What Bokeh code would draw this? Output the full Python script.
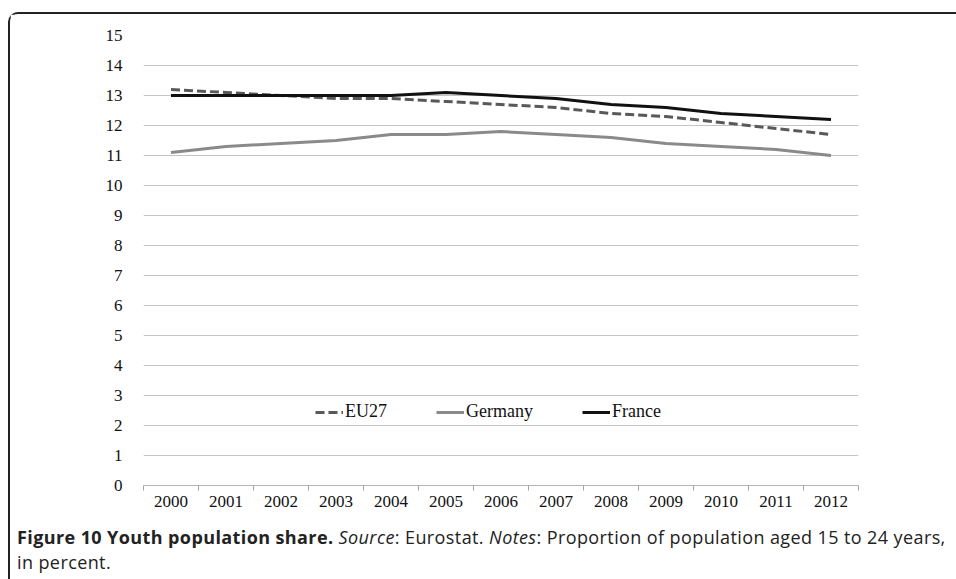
from bokeh.plotting import figure
from bokeh.models import FixedTicker, Legend, LegendItem, Div
from bokeh.layouts import column
from bokeh.embed import file_html
from bokeh.resources import INLINE

years = [2000, 2001, 2002, 2003, 2004, 2005, 2006, 2007, 2008, 2009, 2010, 2011, 2012]
eu27 = [13.2, 13.1, 13.0, 12.9, 12.9, 12.8, 12.7, 12.6, 12.4, 12.3, 12.1, 11.9, 11.7]
germany = [11.1, 11.3, 11.4, 11.5, 11.7, 11.7, 11.8, 11.7, 11.6, 11.4, 11.3, 11.2, 11.0]
france = [13.0, 13.0, 13.0, 13.0, 13.0, 13.1, 13.0, 12.9, 12.7, 12.6, 12.4, 12.3, 12.2]
y_ticks = list(range(0, 16))

xs = list(range(len(years)))

p = figure(width=938, height=506, x_range=(-0.5, len(years) - 0.5), y_range=(0, 15),
           output_backend="svg", toolbar_location=None,
           min_border_left=133, min_border_right=90, min_border_top=21, min_border_bottom=35)
p.outline_line_color = None
p.background_fill_color = "white"
p.border_fill_color = "white"

serif = "Liberation Serif"

# axes
p.yaxis.ticker = FixedTicker(ticks=y_ticks)
p.yaxis.axis_line_color = None
p.yaxis.major_tick_line_color = None
p.yaxis.minor_tick_line_color = None
p.yaxis.major_label_text_font = serif
p.yaxis.major_label_text_font_size = "17px"
p.yaxis.major_label_text_color = "#111111"
p.yaxis.major_label_standoff = 15

p.xaxis.ticker = FixedTicker(ticks=xs, minor_ticks=[i - 0.5 for i in range(len(years) + 1)])
p.xaxis.major_label_overrides = {i: str(y) for i, y in enumerate(years)}
p.xaxis.major_tick_line_color = None
p.xaxis.minor_tick_line_color = "#a6a6a6"
p.xaxis.minor_tick_in = 0
p.xaxis.minor_tick_out = 5
p.xaxis.axis_line_color = "#b4b4b4"
p.xaxis.major_label_text_font = serif
p.xaxis.major_label_text_font_size = "17px"
p.xaxis.major_label_text_color = "#111111"
p.xaxis.major_label_standoff = 4

p.xgrid.grid_line_color = None
p.ygrid.ticker = FixedTicker(ticks=y_ticks)
p.ygrid.grid_line_color = "#c4c4c4"
p.ygrid.grid_line_width = 1

r_eu = p.line(xs, eu27, line_color="#595959", line_width=3, line_dash="9 4")
r_de = p.line(xs, germany, line_color="#8a8a8a", line_width=3)
r_fr = p.line(xs, france, line_color="#111111", line_width=3)

legend = Legend(items=[LegendItem(label="EU27", renderers=[r_eu]),
                       LegendItem(label="Germany", renderers=[r_de]),
                       LegendItem(label="France", renderers=[r_fr])],
                orientation="horizontal", location=(172, 63),
                border_line_color=None, background_fill_alpha=0,
                padding=0, margin=0, spacing=49,
                glyph_width=28, glyph_height=20, label_height=20, label_standoff=2,
                label_text_font=serif, label_text_font_size="18px",
                label_text_color="#111111")
p.add_layout(legend)

caption = Div(
    text=('<b>Figure 10 Youth population share.</b> <i>Source</i>: Eurostat. '
          '<i>Notes</i>: Proportion of population aged 15 to 24 years,<br>in percent.'),
    width=938, height=52,
    styles={"font-family": "'Open Sans', sans-serif", "font-size": "18px",
            "letter-spacing": "0.4px",
            "line-height": "25px", "color": "#222222", "padding-left": "2px",
            "white-space": "nowrap"})

layout = column(p, caption, spacing=0,
                styles={"border-top": "2px solid #222222", "border-left": "2px solid #222222",
                        "border-top-left-radius": "10px", "background": "white",
                        "margin-left": "8px", "margin-top": "12px"})

open("out.html", "w").write(file_html(layout, INLINE))
